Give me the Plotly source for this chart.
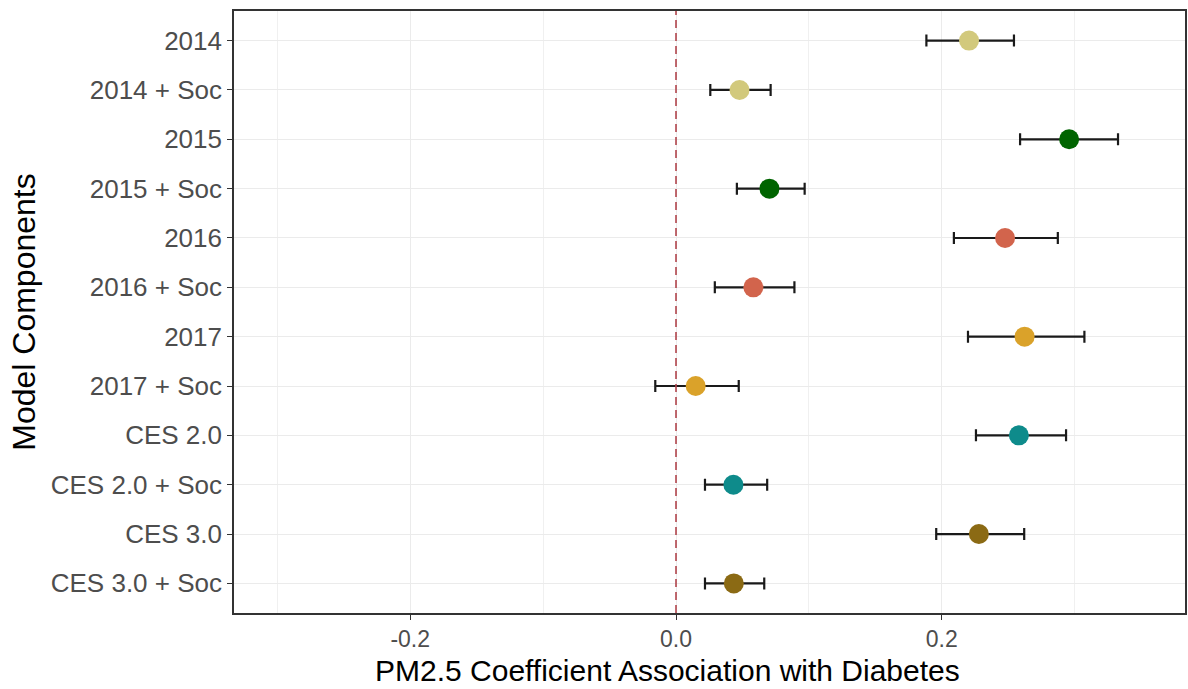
import plotly.graph_objects as go

models = ["2014", "2014 + Soc", "2015", "2015 + Soc", "2016", "2016 + Soc",
          "2017", "2017 + Soc", "CES 2.0", "CES 2.0 + Soc", "CES 3.0", "CES 3.0 + Soc"]
estimate = [0.2205, 0.0478, 0.2958, 0.0703, 0.2476, 0.0582,
            0.2623, 0.0148, 0.2580, 0.0432, 0.2279, 0.0435]
lower = [0.1884, 0.0258, 0.2589, 0.0458, 0.2091, 0.0292,
         0.2197, -0.0156, 0.2257, 0.0218, 0.1958, 0.0218]
upper = [0.2543, 0.0712, 0.3326, 0.0968, 0.2873, 0.0891,
         0.3073, 0.0472, 0.2935, 0.0686, 0.2620, 0.0664]
x_ticks = [-0.2, 0.0, 0.2]
x_tick_text = ["-0.2", "0.0", "0.2"]
x_title = "PM2.5 Coefficient Association with Diabetes"
y_title = "Model Components"

point_colors = ["#D2C97C", "#D2C97C", "#006400", "#006400", "#D2644C", "#D2644C",
                "#DAA22A", "#DAA22A", "#0E8B8B", "#0E8B8B", "#8B6A14", "#8B6A14"]

fig = go.Figure()
fig.add_trace(go.Scatter(
    x=estimate, y=models, mode="markers",
    marker=dict(color=point_colors, size=20, line=dict(width=0)),
    error_x=dict(type="data", symmetric=False,
                 array=[u - e for u, e in zip(upper, estimate)],
                 arrayminus=[e - l for e, l in zip(estimate, lower)],
                 color="#1a1a1a", thickness=2.2, width=6),
    showlegend=False, cliponaxis=False,
))

fig.add_shape(type="line", x0=0, x1=0, y0=0, y1=1, xref="x", yref="paper",
              line=dict(color="#B0444C", width=1.6, dash="8px,5px"), layer="above")

fig.add_annotation(text=x_title, xref="paper", yref="paper",
                   x=(668 - 234) / 953, y=-(670 - 613) / 602,
                   xanchor="center", yanchor="middle", showarrow=False,
                   font=dict(size=30, color="#000000"))

font_family = "Liberation Sans, Arial, sans-serif"
fig.update_layout(
    width=1188, height=689,
    margin=dict(l=234, r=1, t=11, b=76),
    paper_bgcolor="white", plot_bgcolor="white",
    font=dict(family=font_family),
    xaxis=dict(
        range=[-0.3326, 0.383], tickvals=x_ticks, ticktext=x_tick_text,
        showgrid=True, gridcolor="#EBEBEB", gridwidth=1,
        minor=dict(dtick=0.1, tick0=-0.3, showgrid=True, gridcolor="#F0F0F0", gridwidth=1),
        ticks="outside", ticklen=5, tickcolor="#333333", tickwidth=1,
        tickfont=dict(size=23, color="#4D4D4D"),
        showline=True, linecolor="#333333", linewidth=1.6, mirror=True,
        zeroline=False,
    ),
    yaxis=dict(
        type="category", categoryorder="array", categoryarray=models,
        range=[11.6, -0.6],
        showgrid=True, gridcolor="#EBEBEB", gridwidth=1,
        ticks="outside", ticklen=5, tickcolor="#333333", tickwidth=1,
        tickfont=dict(size=26, color="#4D4D4D"),
        showline=True, linecolor="#333333", linewidth=1.6, mirror=True,
        zeroline=False,
        title=dict(text=y_title, font=dict(size=32, color="#000000"), standoff=6),
    ),
)

fig.write_html("out.html")
